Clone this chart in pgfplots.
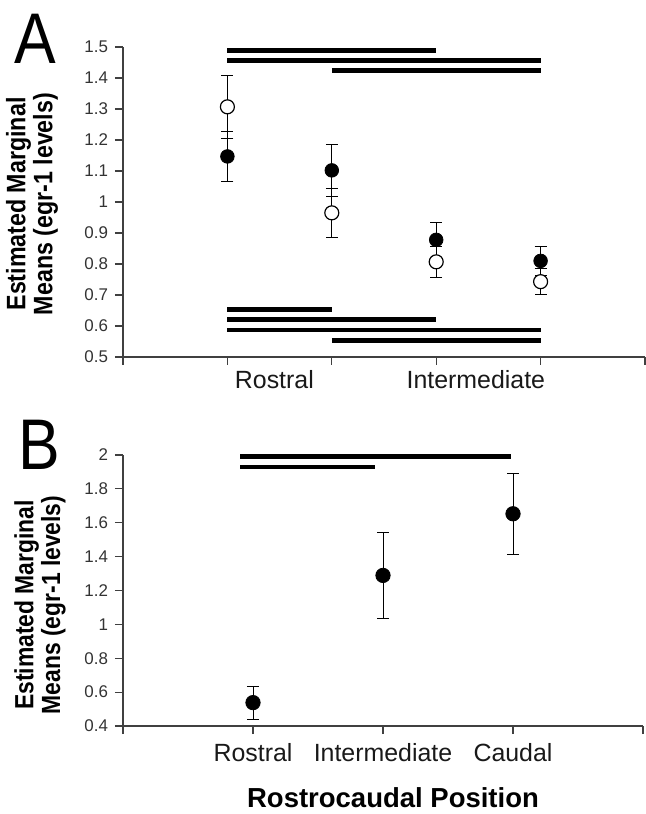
\documentclass[border=0pt]{standalone}
\usepackage{fontspec}
\setmainfont{Liberation Sans}
\newfontfamily\narrowfont[FakeStretch=0.87]{Liberation Sans}
\newfontfamily\narrowbold[FakeStretch=0.87]{Liberation Sans Bold}
\usepackage{pgfplots}
\pgfplotsset{compat=1.18}

\pgfplotsset{
  panel/.style={
    scale only axis,
    axis lines=left,
    axis line style={-, black!75, line width=0.6pt},
    tick align=outside,
    tick style={black!75, line width=0.6pt},
    major tick length=4bp,
    yticklabel style={font=\fontsize{8.5}{9}\selectfont, text=black!80},
    xticklabel style={font=\fontsize{12.5}{14}\selectfont, text=black!90},
    /pgf/number format/assume math mode=true,
    /pgf/number format/fixed,
    clip=false,
  },
  ebars/.style={
    error bars/y dir=both, error bars/y explicit,
    error bars/error bar style={black, line width=0.5pt},
    error bars/error mark options={rotate=90, mark size=3bp, black, line width=0.5pt}},
  openpt/.style={only marks, mark=*, mark size=3.5bp,
    mark options={draw=black, fill=white, line width=0.6pt}, ebars},
  closedpt/.style={only marks, mark=*, mark size=3.4bp,
    mark options={draw=black, fill=black}, ebars},
  sig/.style={black, line width=2.4bp, no marks, forget plot},
}

\begin{document}
\begin{tikzpicture}
\path[use as bounding box] (-61.5bp,-44bp) rectangle (261.5bp,363bp);

% panel A
\begin{axis}[panel, at={(0,184.5bp)}, anchor=south west,
  width=261bp, height=155bp,
  xmin=0, xmax=5, ymin=0.5, ymax=1.5,
  ytick={0.5,0.6,0.7,0.8,0.9,1,1.1,1.2,1.3,1.4,1.5},
  xtick={0,1,2,3,4,5}, xticklabels={},
  extra x ticks={1.45,3.38},
  extra x tick labels={Rostral,Intermediate},
  extra x tick style={major tick length=0pt,
    xticklabel style={yshift=-3bp}},
]
\addplot[openpt] coordinates {
  (1,1.307) +- (0,0.101)
  (2,0.965) +- (0,0.079)
  (3,0.807) +- (0,0.050)
  (4,0.743) +- (0,0.043)
};
\addplot[closedpt] coordinates {
  (1,1.147) +- (0,0.082)
  (2,1.102) +- (0,0.083)
  (3,0.878) +- (0,0.057)
  (4,0.810) +- (0,0.048)
};
\addplot[sig] coordinates {(1,1.489) (3,1.489)};
\addplot[sig] coordinates {(1,1.456) (4,1.456)};
\addplot[sig] coordinates {(2,1.423) (4,1.423)};
\addplot[sig] coordinates {(1,0.653) (2,0.653)};
\addplot[sig] coordinates {(1,0.620) (3,0.620)};
\addplot[sig] coordinates {(1,0.587) (4,0.587)};
\addplot[sig] coordinates {(2,0.553) (4,0.553)};
\end{axis}

% panel B
\begin{axis}[panel, at={(0,0)}, anchor=south west,
  width=260bp, height=135.5bp,
  xmin=0, xmax=4, ymin=0.4, ymax=2,
  ytick={0.4,0.6,0.8,1,1.2,1.4,1.6,1.8,2},
  xtick={0,1,2,3,4},
  xticklabels={,Rostral,Intermediate,Caudal,},
  xticklabel style={yshift=-1bp},
]
\addplot[closedpt, mark size=3.6bp] coordinates {
  (1,0.538) +- (0,0.097)
  (2,1.289) +- (0,0.254)
  (3,1.653) +- (0,0.240)
};
\addplot[sig] coordinates {(0.9,1.992) (2.985,1.992)};
\addplot[sig] coordinates {(0.9,1.929) (1.94,1.929)};
\end{axis}

\node[font=\narrowfont\fontsize{36}{36}\selectfont] at (-44bp,343.5bp) {A};
\node[font=\narrowfont\fontsize{36}{36}\selectfont] at (-42bp,140.5bp) {B};
\node[rotate=90, align=center, font=\narrowbold\fontsize{13.4}{10}\selectfont]
  at (-45.5bp,261bp) {Estimated Marginal\\Means (egr-1 levels)};
\node[rotate=90, align=center, font=\narrowbold\fontsize{13.2}{9.5}\selectfont]
  at (-41.5bp,60.5bp) {Estimated Marginal\\Means (egr-1 levels)};
\node[font=\fontsize{13.8}{15}\selectfont\bfseries] at (135bp,-36bp)
  {Rostrocaudal Position};
\end{tikzpicture}
\end{document}
